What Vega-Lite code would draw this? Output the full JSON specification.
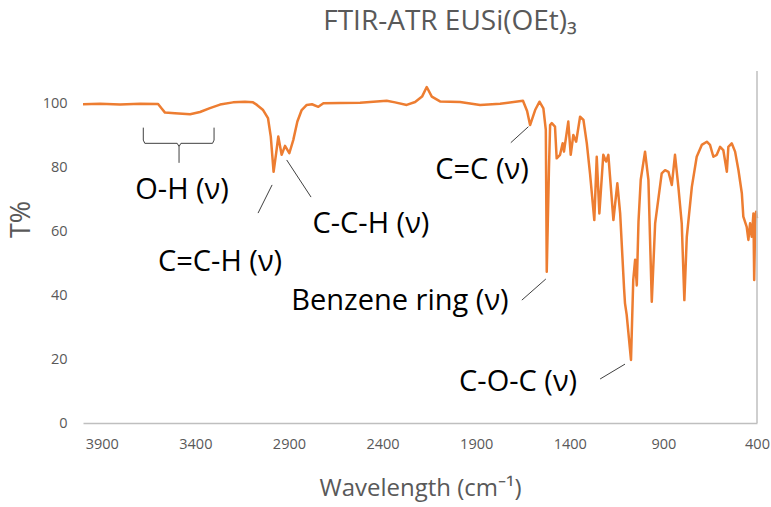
{
  "$schema": "https://vega.github.io/schema/vega-lite/v6.json",
  "autosize": {"type": "none"},
  "width": 674,
  "height": 352,
  "padding": {"left": 83, "top": 71, "right": 14, "bottom": 84},
  "background": "white",
  "config": {
    "view": {"stroke": null},
    "font": "Open Sans"
  },
  "title": {
    "text": "FTIR-ATR EUSi(OEt)₃",
    "fontSize": 28,
    "fontWeight": "normal",
    "color": "#595959",
    "anchor": "middle",
    "dx": 30,
    "offset": 34
  },
  "datasets": {
    "spectrum": [
      {"wn": 4000, "t": 99.6}, {"wn": 3909, "t": 99.8}, {"wn": 3802, "t": 99.5}, {"wn": 3695, "t": 99.8},
      {"wn": 3599, "t": 99.7}, {"wn": 3583, "t": 98.5}, {"wn": 3562, "t": 97.0}, {"wn": 3509, "t": 96.8},
      {"wn": 3428, "t": 96.5}, {"wn": 3375, "t": 97.2}, {"wn": 3322, "t": 98.4}, {"wn": 3268, "t": 99.5},
      {"wn": 3199, "t": 100.2}, {"wn": 3135, "t": 100.4}, {"wn": 3092, "t": 100.2}, {"wn": 3071, "t": 99.4},
      {"wn": 3038, "t": 97.8}, {"wn": 3012, "t": 95.3}, {"wn": 2997, "t": 89.5}, {"wn": 2982, "t": 78.5},
      {"wn": 2969, "t": 84.0}, {"wn": 2957, "t": 89.5}, {"wn": 2939, "t": 83.8}, {"wn": 2921, "t": 86.6},
      {"wn": 2898, "t": 84.3}, {"wn": 2877, "t": 88.4}, {"wn": 2855, "t": 94.2}, {"wn": 2832, "t": 97.8},
      {"wn": 2805, "t": 99.4}, {"wn": 2777, "t": 99.6}, {"wn": 2743, "t": 98.8}, {"wn": 2716, "t": 99.9},
      {"wn": 2627, "t": 100.0}, {"wn": 2520, "t": 100.1}, {"wn": 2378, "t": 100.7}, {"wn": 2333, "t": 100.2},
      {"wn": 2271, "t": 99.4}, {"wn": 2226, "t": 100.3}, {"wn": 2189, "t": 102.0}, {"wn": 2164, "t": 105.0},
      {"wn": 2137, "t": 102.0}, {"wn": 2093, "t": 100.5}, {"wn": 1986, "t": 100.3}, {"wn": 1879, "t": 99.4},
      {"wn": 1772, "t": 99.8}, {"wn": 1650, "t": 100.7}, {"wn": 1628, "t": 97.5}, {"wn": 1612, "t": 93.1},
      {"wn": 1585, "t": 97.8}, {"wn": 1562, "t": 100.4}, {"wn": 1541, "t": 98.3}, {"wn": 1528, "t": 91.6},
      {"wn": 1523, "t": 47.3}, {"wn": 1511, "t": 80.0}, {"wn": 1505, "t": 93.1}, {"wn": 1496, "t": 93.7},
      {"wn": 1479, "t": 92.6}, {"wn": 1470, "t": 82.7}, {"wn": 1452, "t": 83.8}, {"wn": 1438, "t": 87.4},
      {"wn": 1431, "t": 84.8}, {"wn": 1408, "t": 94.2}, {"wn": 1395, "t": 83.8}, {"wn": 1381, "t": 90.0},
      {"wn": 1366, "t": 87.9}, {"wn": 1345, "t": 95.7}, {"wn": 1327, "t": 94.7}, {"wn": 1309, "t": 87.4},
      {"wn": 1292, "t": 78.0}, {"wn": 1269, "t": 63.4}, {"wn": 1256, "t": 83.2}, {"wn": 1242, "t": 65.5},
      {"wn": 1221, "t": 83.8}, {"wn": 1206, "t": 81.7}, {"wn": 1194, "t": 83.8}, {"wn": 1167, "t": 63.4},
      {"wn": 1146, "t": 74.9}, {"wn": 1131, "t": 65.6}, {"wn": 1110, "t": 42.0}, {"wn": 1105, "t": 37.4},
      {"wn": 1096, "t": 33.8}, {"wn": 1073, "t": 19.7}, {"wn": 1061, "t": 44.7}, {"wn": 1051, "t": 51.0},
      {"wn": 1042, "t": 43.0}, {"wn": 1033, "t": 62.9}, {"wn": 1021, "t": 76.0}, {"wn": 998, "t": 84.8},
      {"wn": 980, "t": 76.0}, {"wn": 962, "t": 37.9}, {"wn": 944, "t": 62.4}, {"wn": 909, "t": 78.0},
      {"wn": 891, "t": 79.0}, {"wn": 873, "t": 78.5}, {"wn": 855, "t": 74.4}, {"wn": 838, "t": 83.8},
      {"wn": 820, "t": 73.8}, {"wn": 802, "t": 62.4}, {"wn": 788, "t": 38.4}, {"wn": 775, "t": 58.2},
      {"wn": 748, "t": 73.8}, {"wn": 722, "t": 83.2}, {"wn": 695, "t": 86.9}, {"wn": 668, "t": 87.9},
      {"wn": 651, "t": 86.9}, {"wn": 633, "t": 83.2}, {"wn": 615, "t": 83.8}, {"wn": 597, "t": 86.3},
      {"wn": 580, "t": 85.3}, {"wn": 561, "t": 78.5}, {"wn": 553, "t": 86.3}, {"wn": 535, "t": 87.4},
      {"wn": 517, "t": 84.8}, {"wn": 499, "t": 79.0}, {"wn": 481, "t": 71.8}, {"wn": 473, "t": 64.5},
      {"wn": 455, "t": 61.3}, {"wn": 446, "t": 57.2}, {"wn": 437, "t": 62.4}, {"wn": 428, "t": 58.2},
      {"wn": 419, "t": 65.5}, {"wn": 415, "t": 44.7}, {"wn": 410, "t": 62.0}, {"wn": 405, "t": 66.0},
      {"wn": 400, "t": 64.0}
    ],
    "leaders": [
      {"id": "brace-left", "k": 1, "wn": 3678, "t": 92.3},
      {"id": "brace-left", "k": 2, "wn": 3678, "t": 88.4},
      {"id": "brace-left", "k": 3, "wn": 3670, "t": 87.4},
      {"id": "brace-left", "k": 4, "wn": 3497, "t": 87.4},
      {"id": "brace-left", "k": 5, "wn": 3487, "t": 86.4},
      {"id": "brace-left", "k": 6, "wn": 3487, "t": 81.3},
      {"id": "brace-right", "k": 1, "wn": 3487, "t": 86.4},
      {"id": "brace-right", "k": 2, "wn": 3477, "t": 87.4},
      {"id": "brace-right", "k": 3, "wn": 3308, "t": 87.4},
      {"id": "brace-right", "k": 4, "wn": 3300, "t": 88.4},
      {"id": "brace-right", "k": 5, "wn": 3300, "t": 92.3},
      {"id": "cch-ene", "k": 1, "wn": 2990, "t": 74.4},
      {"id": "cch-ene", "k": 2, "wn": 3065, "t": 65.6},
      {"id": "cch-ane", "k": 1, "wn": 2912, "t": 82.2},
      {"id": "cch-ane", "k": 2, "wn": 2782, "t": 70.6},
      {"id": "cc", "k": 1, "wn": 1621, "t": 92.6},
      {"id": "cc", "k": 2, "wn": 1715, "t": 87.6},
      {"id": "ring", "k": 1, "wn": 1528, "t": 45.0},
      {"id": "ring", "k": 2, "wn": 1656, "t": 38.4},
      {"id": "coc", "k": 1, "wn": 1105, "t": 18.4},
      {"id": "coc", "k": 2, "wn": 1238, "t": 13.75}
    ],
    "labels": [
      {"label": "O-H (ν)", "wn": 3471, "t": 72.8},
      {"label": "C=C-H (ν)", "wn": 3268, "t": 50.3},
      {"label": "C-C-H (ν)", "wn": 2462, "t": 62.2},
      {"label": "C=C (ν)", "wn": 1869, "t": 79.1},
      {"label": "Benzene ring (ν)", "wn": 2307, "t": 38.1},
      {"label": "C-O-C (ν)", "wn": 1676, "t": 12.8}
    ]
  },
  "layer": [
    {
      "data": {"name": "spectrum"},
      "mark": {"type": "line", "color": "#ED7D31", "strokeWidth": 2.5, "strokeJoin": "round"},
      "encoding": {
        "x": {
          "field": "wn",
          "type": "quantitative",
          "scale": {"domain": [4000, 400], "nice": false, "zero": false},
          "axis": {
            "title": "Wavelength (cm⁻¹)",
            "values": [3900, 3400, 2900, 2400, 1900, 1400, 900, 400],
            "format": "d",
            "grid": false,
            "ticks": false,
            "domainColor": "#BFBFBF",
            "domainWidth": 1.5,
            "labelColor": "#595959",
            "labelFontSize": 14.5,
            "labelPadding": 14,
            "labelFlush": false,
            "titleColor": "#595959",
            "titleFontSize": 24,
            "titleFontWeight": "normal",
            "titlePadding": 26
          }
        },
        "y": {
          "field": "t",
          "type": "quantitative",
          "scale": {"domain": [0, 110], "nice": false},
          "axis": {
            "title": "T%",
            "values": [0, 20, 40, 60, 80, 100],
            "grid": false,
            "ticks": false,
            "domain": false,
            "labelColor": "#595959",
            "labelFontSize": 14.5,
            "labelPadding": 16,
            "titleColor": "#595959",
            "titleFontSize": 27,
            "titleFontWeight": "normal",
            "titleX": -62,
            "titleY": 148,
            "titleBaseline": "middle",
            "titleAlign": "center",
            "titleAngle": -90
          }
        }
      }
    },
    {
      "data": {"values": [{}]},
      "mark": {"type": "rule", "color": "#BFBFBF", "strokeWidth": 1.5},
      "encoding": {"x": {"datum": 400}, "y": {"datum": 0}, "y2": {"datum": 110}}
    },
    {
      "data": {"name": "leaders"},
      "mark": {"type": "line", "color": "#404040", "strokeWidth": 1},
      "encoding": {
        "x": {"field": "wn", "type": "quantitative"},
        "y": {"field": "t", "type": "quantitative"},
        "detail": {"field": "id"},
        "order": {"field": "k"}
      }
    },
    {
      "data": {"name": "labels"},
      "mark": {"type": "text", "fontSize": 29, "color": "#000000", "align": "center", "baseline": "middle"},
      "encoding": {
        "x": {"field": "wn", "type": "quantitative"},
        "y": {"field": "t", "type": "quantitative"},
        "text": {"field": "label"}
      }
    }
  ]
}
